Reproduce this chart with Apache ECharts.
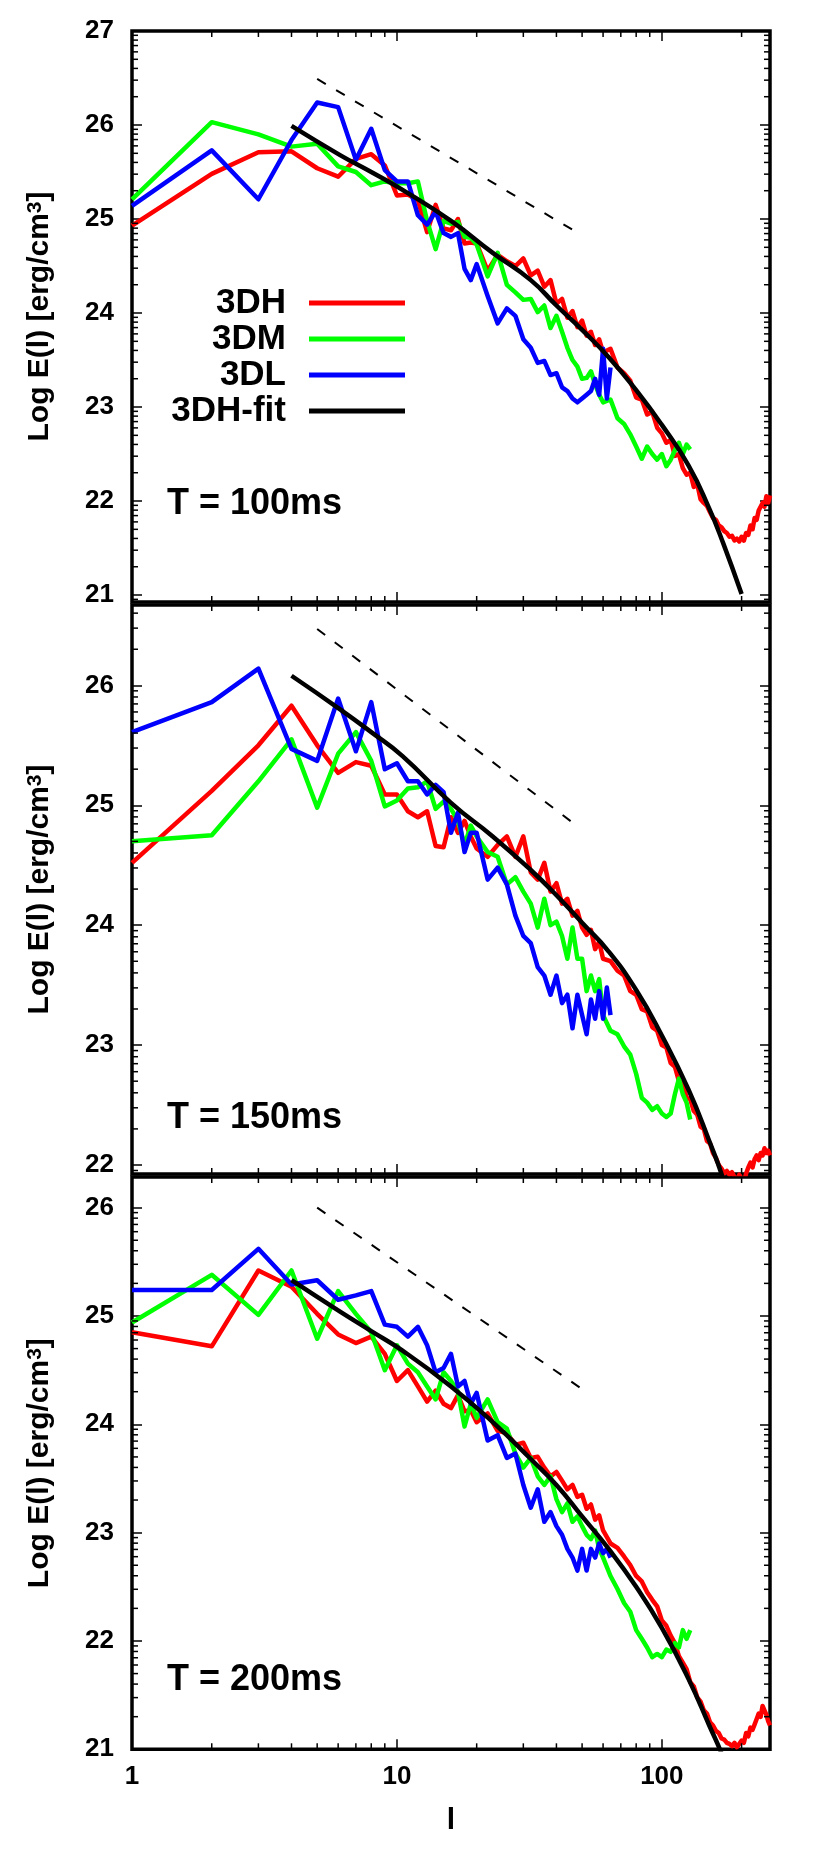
<!DOCTYPE html>
<html>
<head>
<meta charset="utf-8">
<script src="https://cdn.jsdelivr.net/npm/echarts@6/dist/echarts.min.js"></script>
<style>
html,body{margin:0;padding:0;background:#fff;}
#chart{width:830px;height:1868px;}
</style>
</head>
<body>
<div id="chart"></div>
<script>
// ---------------- data ----------------
const L_H = [1,2,3,4,5,6,7,8,9,10,11,12,13,14,15,16,17,18,19,20,
  22,24,26,28,30,32,34,36,38,40,42,44,46,48,50,52,54,56,58,60,
  64,68,72,76,80,84,88,92,96,100,104,108,112,116,120,124,128,132,136,140,
  144,148,152,156,160,164,168,172,176,180,184,188,192,196,200,204,208,212,216,220,
  224,228,232,236,240,244,248,252,256];
const L_M = [1,2,3,4,5,6,7,8,9,10,11,12,13,14,15,16,17,18,19,20,
  22,24,26,28,30,32,34,36,38,40,42,44,46,48,50,52,54,56,58,60,
  64,68,72,76,80,84,88,92,96,100,104,108,112,116,120,124,128];
const L_L = [1,2,3,4,5,6,7,8,9,10,11,12,13,14,15,16,17,18,19,20,
  22,24,26,28,30,32,34,36,38,40,42,44,46,48,50,52,54,56,58,60,62,64];
const FIT_L = [4,6.1,8,10.5,16,23,32,40,50,63,80,100,126,151,170,200];
const DASH_L = [5,49];

// T = 100ms
const H100 = [24.93,25.48,25.71,25.72,25.54,25.45,25.64,25.69,25.57,25.25,25.26,25.20,24.86,25.15,24.90,24.88,25.00,24.74,24.75,24.74,
  24.45,24.62,24.55,24.50,24.58,24.40,24.45,24.28,24.35,24.10,24.15,23.95,24.02,23.85,23.92,23.76,23.80,23.66,23.72,23.58,
  23.62,23.42,23.36,23.28,23.10,23.08,22.92,22.95,22.78,22.72,22.62,22.65,22.48,22.50,22.35,22.28,22.30,22.15,22.18,22.02,
  21.98,21.95,21.88,21.82,21.80,21.74,21.72,21.68,21.66,21.62,21.63,21.58,21.60,21.57,21.62,21.58,21.66,21.64,21.74,21.70,
  21.82,21.80,21.90,21.88,21.98,21.94,22.05,21.98,22.06];
const M100 = [25.21,26.03,25.90,25.77,25.80,25.56,25.50,25.36,25.40,25.38,25.38,25.40,24.98,24.68,24.98,24.95,24.97,24.81,24.80,24.73,
  24.39,24.64,24.30,24.22,24.14,24.15,24.01,24.08,23.84,23.97,23.80,23.63,23.50,23.43,23.30,23.31,23.38,23.24,23.13,23.05,
  23.08,22.88,22.82,22.71,22.58,22.45,22.58,22.50,22.44,22.50,22.37,22.44,22.54,22.62,22.50,22.60,22.55];
const B100 = [25.14,25.73,25.21,25.84,26.24,26.19,25.63,25.96,25.52,25.40,25.40,25.04,24.94,25.08,24.85,24.81,24.85,24.47,24.35,24.52,
  24.18,23.89,24.05,23.97,23.72,23.63,23.47,23.49,23.34,23.36,23.21,23.17,23.09,23.05,23.09,23.13,23.17,23.30,23.13,23.62,23.09,23.42];
const FIT100 = [25.99,25.68,25.50,25.31,24.98,24.64,24.35,24.08,23.82,23.53,23.18,22.81,22.38,21.92,21.56,21.01];
const DASH100 = [26.49,24.84];

// T = 150ms
const H150 = [24.52,25.12,25.50,25.83,25.50,25.27,25.36,25.33,25.09,25.09,24.95,24.90,24.95,24.66,24.65,24.90,24.77,24.87,24.74,24.64,
  24.57,24.67,24.74,24.57,24.74,24.44,24.38,24.52,24.28,24.35,24.18,24.22,24.08,24.12,23.98,23.92,23.96,23.80,23.86,23.72,
  23.70,23.62,23.58,23.45,23.42,23.30,23.28,23.15,23.12,23.00,22.98,22.85,22.82,22.70,22.68,22.56,22.55,22.45,22.42,22.32,
  22.30,22.20,22.18,22.10,22.06,22.00,21.97,21.93,21.95,21.92,21.94,21.90,21.86,21.92,21.88,21.85,21.93,21.98,22.02,21.98,
  22.05,22.08,22.04,22.10,22.08,22.14,22.10,22.12,22.08];
const M150 = [24.70,24.75,25.20,25.55,24.98,25.43,25.61,25.37,24.99,25.04,25.14,25.15,25.20,24.97,25.03,24.97,24.87,24.67,24.83,24.74,
  24.61,24.57,24.34,24.40,24.28,24.18,23.98,24.22,24.00,24.03,23.91,23.72,23.98,23.72,23.72,23.45,23.58,23.45,23.55,23.25,
  23.12,23.09,22.99,22.92,22.76,22.56,22.52,22.46,22.49,22.43,22.40,22.43,22.59,22.72,22.59,22.52,22.38];
const B150 = [25.61,25.86,26.14,25.47,25.37,25.89,25.45,25.86,25.30,25.35,25.20,25.20,25.09,25.17,25.11,24.77,24.94,24.61,24.77,24.77,
  24.38,24.48,24.34,24.08,23.91,23.85,23.65,23.58,23.42,23.58,23.35,23.42,23.14,23.42,23.25,23.09,23.38,23.22,23.45,23.22,23.48,23.25];
const FIT150 = [26.08,25.80,25.61,25.41,25.02,24.74,24.46,24.25,24.02,23.78,23.46,23.08,22.63,22.20,21.89,21.35];
const DASH150 = [26.47,24.81];

// T = 200ms
const H200 = [24.85,24.72,25.42,25.27,25.02,24.83,24.75,24.81,24.65,24.40,24.50,24.35,24.21,24.31,24.19,24.15,24.27,24.12,24.13,24.02,
  24.10,23.94,23.92,23.81,23.83,23.69,23.70,23.60,23.52,23.56,23.48,23.40,23.44,23.33,23.35,23.22,23.26,23.12,23.16,23.02,
  22.90,22.86,22.78,22.70,22.60,22.55,22.45,22.38,22.32,22.19,22.14,22.05,21.98,21.86,21.80,21.74,21.62,21.58,21.48,21.44,
  21.36,21.33,21.25,21.22,21.17,21.15,21.10,21.09,21.06,21.05,21.03,21.06,21.02,21.05,21.08,21.06,21.15,21.12,21.20,21.18,
  21.23,21.28,21.33,21.30,21.40,21.36,21.32,21.26,21.22];
const M200 = [24.94,25.38,25.01,25.42,24.79,25.23,25.02,24.85,24.50,24.73,24.56,24.48,24.35,24.23,24.48,24.40,24.30,23.98,24.19,24.06,
  24.23,24.02,23.96,23.73,23.60,23.69,23.52,23.44,23.52,23.31,23.19,23.27,23.10,23.15,23.06,22.98,22.94,23.02,22.85,22.77,
  22.60,22.48,22.35,22.27,22.10,22.02,21.94,21.85,21.88,21.85,21.92,21.90,21.98,21.94,22.10,22.02,22.10];
const B200 = [25.24,25.24,25.62,25.29,25.33,25.15,25.19,25.23,24.92,24.90,24.81,24.90,24.73,24.48,24.52,24.65,24.35,24.40,24.19,24.29,
  23.85,23.90,23.69,23.73,23.44,23.23,23.40,23.10,23.19,23.06,22.98,22.85,22.77,22.65,22.85,22.65,22.85,22.77,22.90,22.81,22.85,22.77];
const FIT200 = [25.33,25.04,24.86,24.68,24.35,24.02,23.68,23.44,23.15,22.85,22.50,22.12,21.65,21.22,20.93,20.45];
const DASH200 = [26.00,24.34];

const X_TICK_LABELS = [1,10,100];
const SERIES_NAMES = ['3DH','3DM','3DL','3DH-fit'];
const PANEL_LABELS = ['T = 100ms','T = 150ms','T = 200ms'];

// ---------------- chart ----------------
const FONT = '"Liberation Sans", Arial, Helvetica, sans-serif';
const COLORS = {'3DH':'#ff0000','3DM':'#00ff00','3DL':'#0000ff','3DH-fit':'#000000'};
const zip = (xs, ys) => xs.map((x, i) => [x, ys[i]]);
const isInt = v => Math.abs(v - Math.round(v)) < 1e-6;

const panels = [
  {H:H100, M:M100, B:B100, F:FIT100, D:DASH100, min:20.926, max:27,     split:6, top:31,   height:571,   labelY:504},
  {H:H150, M:M150, B:B150, F:FIT150, D:DASH150, min:21.925, max:26.67,  split:5, top:605,  height:569,   labelY:1118},
  {H:H200, M:M200, B:B200, F:FIT200, D:DASH200, min:21,     max:26.283, split:5, top:1177, height:572.3, labelY:1680}
];

const LOG_K = [2,3,4,5,6,7,8,9];
function yMinor(min, max) {
  const out = [];
  for (let n = Math.floor(min); n <= Math.ceil(max); n++) {
    LOG_K.forEach(k => { const v = n + Math.log10(k); if (v > min && v < max) out.push([2, v]); });
  }
  return out;
}
function xMinor(yv) {
  const out = [];
  [1,10,100].forEach(d => LOG_K.forEach(k => { const v = d * k; if (v < 256) out.push([v, yv]); }));
  return out;
}
function tickRender(dir) {
  return function (params, api) {
    const cs = params.coordSys;
    const p = api.coord([api.value(0), api.value(1)]);
    const st = {stroke:'#000', lineWidth:1.5};
    const len = 6;
    if (dir === 'y') {
      return {type:'group', children:[
        {type:'line', shape:{x1:cs.x, y1:p[1], x2:cs.x + len, y2:p[1]}, style:st},
        {type:'line', shape:{x1:cs.x + cs.width - len, y1:p[1], x2:cs.x + cs.width, y2:p[1]}, style:st}
      ]};
    }
    return {type:'group', children:[
      {type:'line', shape:{x1:p[0], y1:cs.y, x2:p[0], y2:cs.y + len}, style:st},
      {type:'line', shape:{x1:p[0], y1:cs.y + cs.height - len, x2:p[0], y2:cs.y + cs.height}, style:st}
    ]};
  };
}

const grid = [], xAxis = [], yAxis = [], series = [], graphic = [];
const labelFont = {fontSize:26, fontWeight:'bold', fontFamily:FONT, color:'#000'};
const tickStyle = {show:true, inside:true, length:10, lineStyle:{color:'#000', width:1.5}};
const nameStyle = {fontSize:30, fontWeight:'bold', fontFamily:FONT, color:'#000',
  rich:{s:{fontSize:21, fontWeight:'bold', fontFamily:FONT, color:'#000', verticalAlign:'top'}}};

panels.forEach((p, i) => {
  grid.push({left:132, right:60, top:p.top, height:p.height, show:true,
    borderColor:'#000', borderWidth:3.5, backgroundColor:'rgba(0,0,0,0)', outerBoundsMode:'none'});
  ['bottom','top'].forEach(pos => {
    const showLab = pos === 'bottom' && i === 2;
    xAxis.push({gridIndex:i, type:'log', logBase:10, min:1, max:256, position:pos,
      axisLine:{show:false}, splitLine:{show:false}, axisTick:tickStyle,
      axisLabel:Object.assign({show:showLab, margin:15,
        formatter: v => (isInt(v) && X_TICK_LABELS.includes(Math.round(v))) ? String(Math.round(v)) : ''}, labelFont),
      name: showLab ? 'l' : '', nameLocation:'middle', nameGap:56,
      nameTextStyle:{fontSize:30, fontWeight:'bold', fontFamily:FONT, color:'#000'}
    });
  });
  ['left','right'].forEach(pos => {
    yAxis.push({gridIndex:i, type:'value', min:p.min, max:p.max, splitNumber:p.split, position:pos,
      axisLine:{show:false}, splitLine:{show:false}, axisTick:tickStyle,
      axisLabel:Object.assign({show:pos === 'left', margin:18,
        formatter: v => isInt(v) ? String(Math.round(v)) : ''}, labelFont),
      name: pos === 'left' ? 'Log E(l) [erg/cm{s|3}]' : '', nameLocation:'middle', nameGap:77, nameRotate:90,
      nameTextStyle:nameStyle
    });
  });
  const xi = 2 * i, yi = 2 * i;
  const lineS = (name, xs, ys, extra) => Object.assign({
    name, type:'line', xAxisIndex:xi, yAxisIndex:yi, data:zip(xs, ys),
    showSymbol:false, symbol:'none', silent:true, animation:false,
    lineStyle:{color:COLORS[name], width:4.5, join:'round'}, itemStyle:{color:COLORS[name]}
  }, extra || {});
  series.push(lineS('3DH', L_H, p.H));
  series.push(lineS('3DM', L_M, p.M));
  series.push(lineS('3DL', L_L, p.B));
  series.push({name:'slope', type:'line', xAxisIndex:xi, yAxisIndex:yi, data:zip(DASH_L, p.D),
    showSymbol:false, symbol:'none', silent:true, animation:false,
    lineStyle:{color:'#000', width:2, type:[10,12]}, itemStyle:{color:'#000'}});
  series.push(lineS('3DH-fit', FIT_L, p.F, {smooth:0.5}));
  series.push({type:'custom', xAxisIndex:xi, yAxisIndex:yi, data:yMinor(p.min, p.max),
    renderItem:tickRender('y'), silent:true, animation:false, z:5});
  series.push({type:'custom', xAxisIndex:xi, yAxisIndex:yi, data:xMinor(p.min + 0.5),
    renderItem:tickRender('x'), silent:true, animation:false, z:5});
  graphic.push({type:'text', x:167, y:p.labelY, silent:true,
    style:{text:PANEL_LABELS[i], font:'bold 36px ' + FONT, fill:'#000',
      align:'left', verticalAlign:'middle', textAlign:'left', textVerticalAlign:'middle'}});
});

const chart = echarts.init(document.getElementById('chart'), null, {renderer:'canvas'});
chart.setOption({
  animation:false,
  backgroundColor:'#ffffff',
  textStyle:{fontFamily:FONT},
  grid, xAxis, yAxis, series, graphic,
  legend:{
    data:SERIES_NAMES, orient:'vertical', align:'right',
    right:425, top:285, padding:0, itemGap:0,
    itemWidth:96, itemHeight:5, icon:'rect', selectedMode:false,
    textStyle:{fontSize:35, fontWeight:'bold', fontFamily:FONT, color:'#000', lineHeight:36, padding:[0,18,0,0]}
  }
});
</script>
</body>
</html>
